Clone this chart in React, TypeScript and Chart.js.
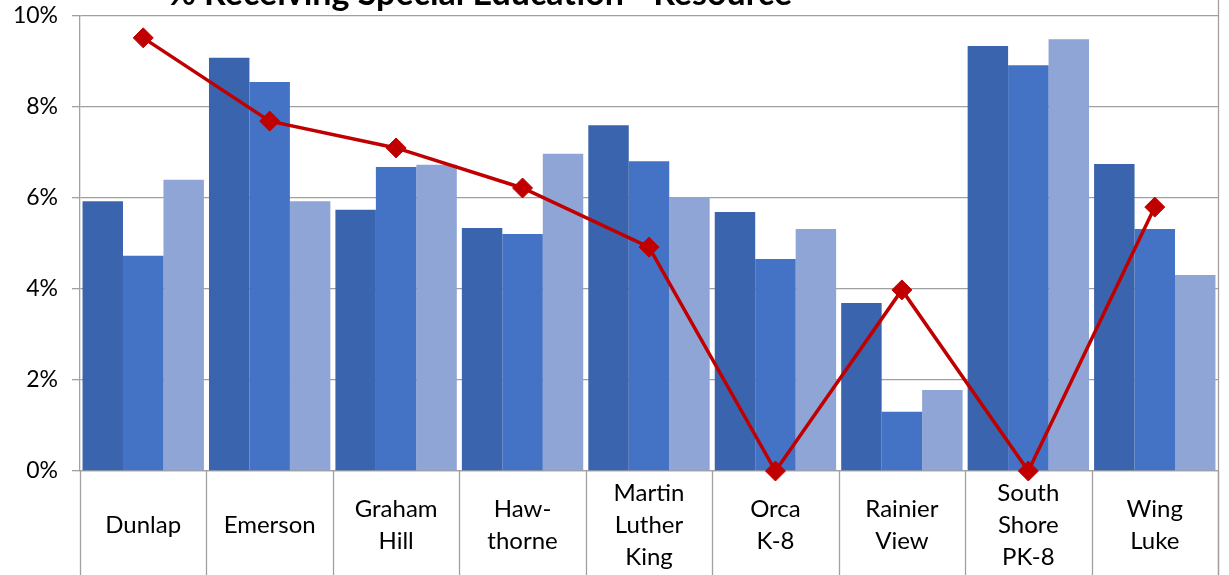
import React, { useEffect, useRef } from "react";
import { Chart, registerables } from "chart.js";

Chart.register(...registerables);

const titleText = "% Receiving Special Education - Resource";
const categories: (string | string[])[] = [
  "Dunlap",
  "Emerson",
  ["Graham", "Hill"],
  ["Haw-", "thorne"],
  ["Martin", "Luther", "King"],
  ["Orca", "K-8"],
  ["Rainier", "View"],
  ["South", "Shore", "PK-8"],
  ["Wing", "Luke"],
];
const series1 = [5.93, 9.08, 5.74, 5.34, 7.6, 5.69, 3.69, 9.34, 6.75];
const series2 = [4.73, 8.55, 6.68, 5.21, 6.81, 4.66, 1.3, 8.92, 5.32];
const series3 = [6.4, 5.93, 6.73, 6.97, 6.02, 5.32, 1.78, 9.49, 4.31];
const lineValues = [9.52, 7.69, 7.1, 6.22, 4.92, 0, 3.98, 0, 5.8];
const yTicks = [0, 2, 4, 6, 8, 10];

const FONT = "Lato, 'Open Sans', sans-serif";
const GRID = "#A0A0A0";

const decorPlugin = {
  id: "decor",
  beforeDatasetsDraw(chart: any) {
    const { ctx, chartArea } = chart;
    const xs = chart.scales.x;
    const n = categories.length;
    const half = (xs.getPixelForValue(1) - xs.getPixelForValue(0)) / 2;
    ctx.save();
    ctx.strokeStyle = GRID;
    ctx.lineWidth = 1.3;
    for (let i = 0; i <= n; i++) {
      const x = Math.round(xs.getPixelForValue(i) - half) + 0.5;
      ctx.beginPath();
      ctx.moveTo(x, chartArea.bottom);
      ctx.lineTo(x, chart.height);
      ctx.stroke();
    }
    const xr = Math.round(chartArea.right) + 0.5;
    ctx.beginPath();
    ctx.moveTo(xr, 0);
    ctx.lineTo(xr, chart.height);
    ctx.stroke();
    ctx.fillStyle = "#000";
    ctx.font = "bold 34px " + FONT;
    ctx.textAlign = "center";
    ctx.textBaseline = "alphabetic";
    ctx.fillText(titleText, 480, 5);
    ctx.restore();
  },
};

export default function App() {
  const ref = useRef<HTMLCanvasElement | null>(null);
  useEffect(() => {
    if (!ref.current) return;
    const chart = new Chart(ref.current, {
      type: "bar",
      data: {
        labels: categories as any,
        datasets: [
          {
            type: "line",
            label: "Line",
            data: lineValues,
            borderColor: "#C00000",
            backgroundColor: "#C00000",
            borderWidth: 3.5,
            pointStyle: "rectRot",
            pointRadius: 10,
            pointBorderWidth: 1,
            clip: false,
            order: 0,
          } as any,
          {
            label: "A",
            data: series1,
            backgroundColor: "#3A64AD",
            order: 1,
          },
          {
            label: "B",
            data: series2,
            backgroundColor: "#4472C4",
            order: 1,
          },
          {
            label: "C",
            data: series3,
            backgroundColor: "#8FA5D6",
            order: 1,
          },
        ],
      },
      options: {
        responsive: false,
        animation: false,
        layout: { padding: { left: 0, right: 6, top: 16, bottom: 0 } },
        plugins: {
          legend: { display: false },
          title: { display: false },
          tooltip: { enabled: false },
        },
        datasets: {
          bar: { categoryPercentage: 0.96, barPercentage: 1 },
        } as any,
        scales: {
          x: {
            offset: true,
            grid: { display: false, drawTicks: false },
            border: { display: true, color: GRID, width: 1.3 },
            ticks: {
              autoSkip: false,
              maxRotation: 0,
              crossAlign: "center",
              padding: 22,
              color: "#000",
              font: { family: FONT, size: 24, lineHeight: 1.333 },
            },
            afterFit: (s: any) => {
              s.height = 104;
            },
          },
          y: {
            min: 0,
            max: 10,
            afterBuildTicks: (s: any) => {
              s.ticks = yTicks.map((v) => ({ value: v }));
            },
            grid: { color: GRID, lineWidth: 1.3, tickLength: 8 },
            border: { display: true, color: GRID, width: 1.3 },
            ticks: {
              padding: 14,
              color: "#000",
              font: { family: FONT, size: 23 },
              callback: (v: any) => v + "%",
            },
            afterFit: (s: any) => {
              s.width = 80;
              s.paddingTop = 0;
              s.paddingBottom = 0;
            },
          },
        },
      },
      plugins: [decorPlugin],
    });
    return () => chart.destroy();
  }, []);
  return (
    <div style={{ position: "fixed", left: 0, top: 0, width: 1229, height: 575 }}>
      <canvas ref={ref} width={1229} height={575} />
    </div>
  );
}
